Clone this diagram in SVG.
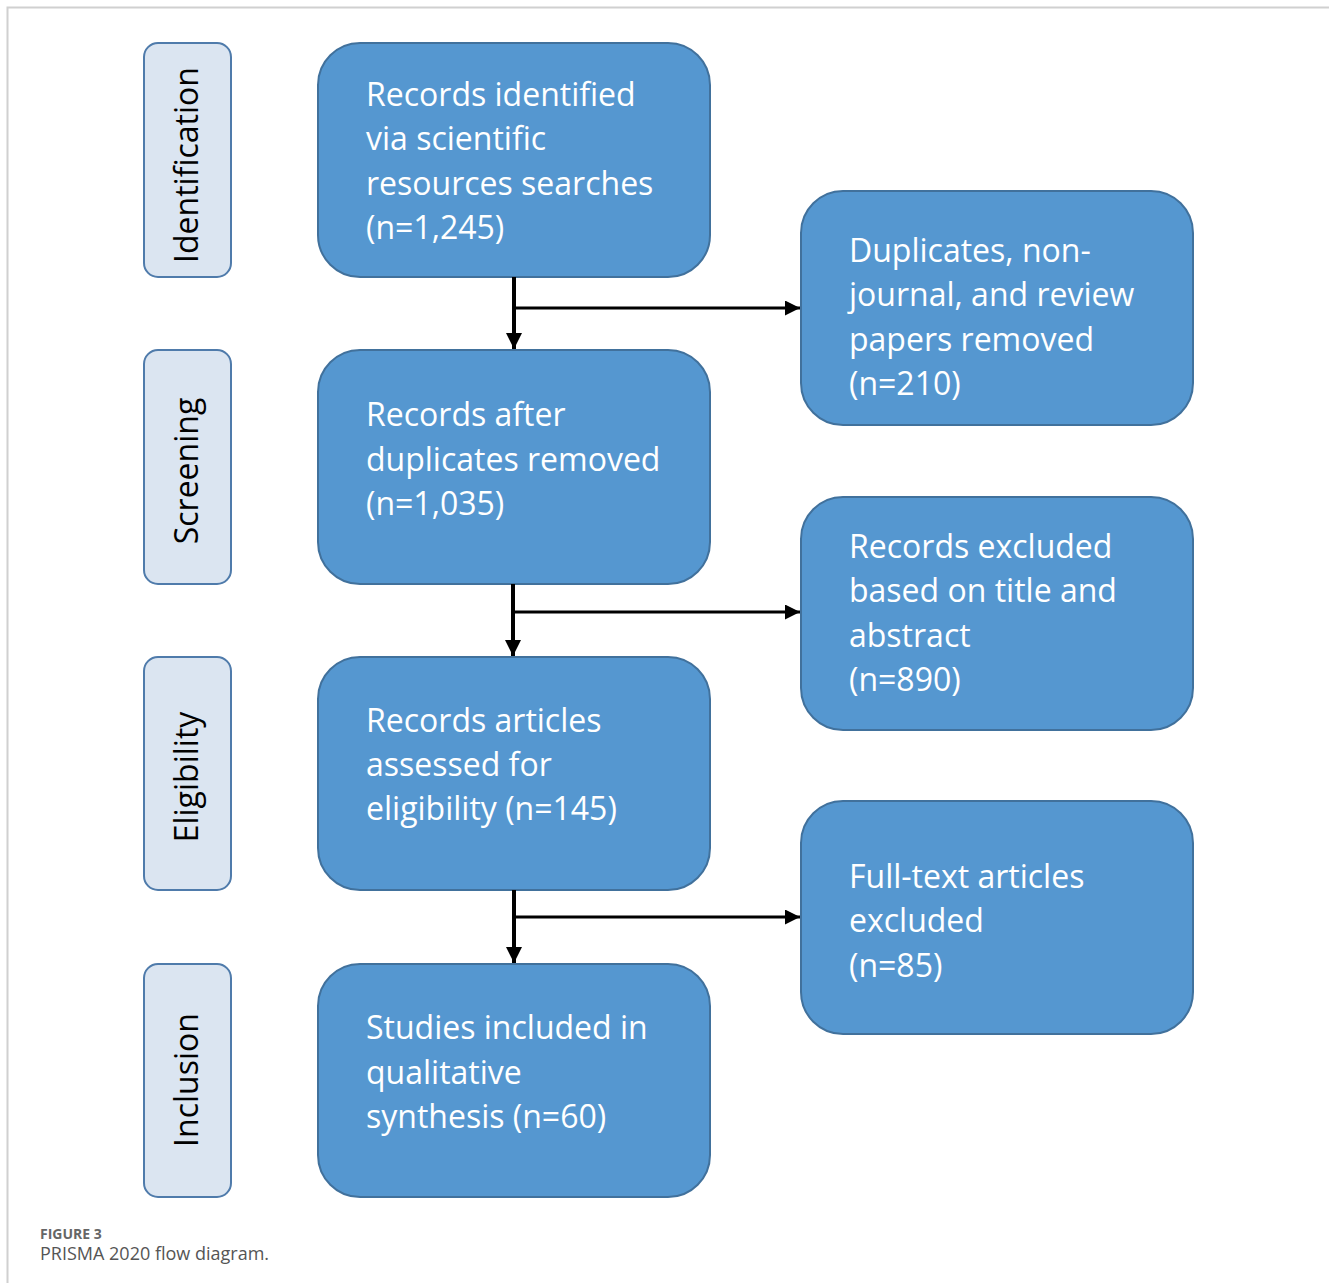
<svg xmlns="http://www.w3.org/2000/svg" width="1329" height="1283" viewBox="0 0 1329 1283">
<defs>
<style>
.stage{fill:#dbe5f1;stroke:#4f7bab;stroke-width:2}
.stage-t{font-family:"Open Sans","Liberation Sans",sans-serif;font-size:32px;fill:#000;text-anchor:middle}
.box{fill:#5597d0;stroke:#41719c;stroke-width:2}
.box-t{font-family:"Open Sans","Liberation Sans",sans-serif;font-size:32px;fill:#fff}
.conn{stroke:#000;stroke-width:4;fill:none}
.conn2{stroke:#000;stroke-width:3;fill:none}
</style>
<marker id="ah" viewBox="0 0 10 10" refX="10" refY="5" markerWidth="4" markerHeight="4" markerUnits="strokeWidth" orient="auto">
<path d="M0,0 L10,5 L0,10 z" fill="#000"/>
</marker>
<marker id="ah2" viewBox="0 0 10 10" refX="10" refY="5" markerWidth="5" markerHeight="5" markerUnits="strokeWidth" orient="auto">
<path d="M0,0 L10,5 L0,10 z" fill="#000"/>
</marker>
</defs>
<rect width="1329" height="1283" fill="#fff"/>
<path d="M7.5,1283 V7.5 H1329" fill="none" stroke="#d0d0d0" stroke-width="2"/>

<g id="stage-identification"><rect class="stage" x="144" y="43" width="87" height="234" rx="14"/><text class="stage-t" transform="translate(198,165) rotate(-90)">Identification</text></g>
<g id="stage-screening"><rect class="stage" x="144" y="350" width="87" height="234" rx="14"/><text class="stage-t" transform="translate(198,471) rotate(-90)">Screening</text></g>
<g id="stage-eligibility"><rect class="stage" x="144" y="657" width="87" height="233" rx="14"/><text class="stage-t" transform="translate(198,777) rotate(-90)">Eligibility</text></g>
<g id="stage-inclusion"><rect class="stage" x="144" y="964" width="87" height="233" rx="14"/><text class="stage-t" transform="translate(198,1080) rotate(-90)">Inclusion</text></g>

<g id="box-identified"><rect class="box" x="318" y="43" width="392" height="234" rx="42"/>
<text class="box-t" x="366" y="106">Records identified</text>
<text class="box-t" x="366" y="150">via scientific</text>
<text class="box-t" x="366" y="195">resources searches</text>
<text class="box-t" x="366" y="239">(n=1,245)</text></g>

<g id="box-after-duplicates"><rect class="box" x="318" y="350" width="392" height="234" rx="42"/>
<text class="box-t" x="366" y="426">Records after</text>
<text class="box-t" x="366" y="471">duplicates removed</text>
<text class="box-t" x="366" y="515">(n=1,035)</text></g>

<g id="box-assessed"><rect class="box" x="318" y="657" width="392" height="233" rx="42"/>
<text class="box-t" x="366" y="732">Records articles</text>
<text class="box-t" x="366" y="776">assessed for</text>
<text class="box-t" x="366" y="820">eligibility (n=145)</text></g>

<g id="box-included"><rect class="box" x="318" y="964" width="392" height="233" rx="42"/>
<text class="box-t" x="366" y="1039">Studies included in</text>
<text class="box-t" x="366" y="1084">qualitative</text>
<text class="box-t" x="366" y="1128">synthesis (n=60)</text></g>

<g id="box-duplicates-removed"><rect class="box" x="801" y="191" width="392" height="234" rx="42"/>
<text class="box-t" x="849" y="262">Duplicates, non-</text>
<text class="box-t" x="849" y="306">journal, and review</text>
<text class="box-t" x="849" y="351">papers removed</text>
<text class="box-t" x="849" y="395">(n=210)</text></g>

<g id="box-title-abstract"><rect class="box" x="801" y="497" width="392" height="233" rx="42"/>
<text class="box-t" x="849" y="558">Records excluded</text>
<text class="box-t" x="849" y="602">based on title and</text>
<text class="box-t" x="849" y="647">abstract</text>
<text class="box-t" x="849" y="691">(n=890)</text></g>

<g id="box-fulltext-excluded"><rect class="box" x="801" y="801" width="392" height="233" rx="42"/>
<text class="box-t" x="849" y="888">Full-text articles</text>
<text class="box-t" x="849" y="932">excluded</text>
<text class="box-t" x="849" y="977">(n=85)</text></g>

<g id="connectors">
<line class="conn" x1="514" y1="277" x2="514" y2="349" marker-end="url(#ah)"/>
<line class="conn2" x1="514" y1="308" x2="800" y2="308" marker-end="url(#ah2)"/>
<line class="conn" x1="513" y1="584" x2="513" y2="656" marker-end="url(#ah)"/>
<line class="conn2" x1="513" y1="612" x2="800" y2="612" marker-end="url(#ah2)"/>
<line class="conn" x1="514" y1="890" x2="514" y2="963" marker-end="url(#ah)"/>
<line class="conn2" x1="514" y1="917" x2="800" y2="917" marker-end="url(#ah2)"/>
</g>

<g id="caption">
<text x="40" y="1239" font-family="'Open Sans','Liberation Sans',sans-serif" font-size="14" font-weight="bold" fill="#666">FIGURE 3</text>
<text x="40" y="1260" font-family="'Open Sans','Liberation Sans',sans-serif" font-size="18" fill="#555">PRISMA 2020 flow diagram.</text>
</g>
</svg>
